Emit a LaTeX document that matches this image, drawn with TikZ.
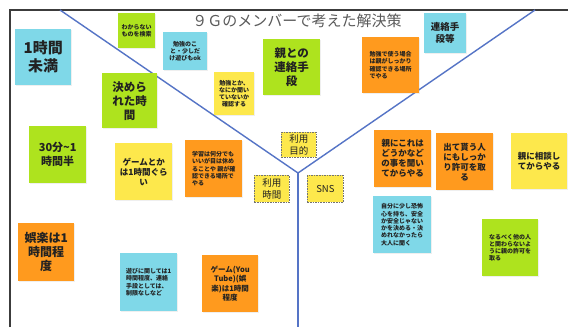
\documentclass[tikz,border=0pt]{standalone}
\usepackage{fontspec}
\setmainfont{Noto Sans CJK JP}
\usetikzlibrary{shadows}

\definecolor{stcyan}{HTML}{7FD8E8}
\definecolor{stgreen}{HTML}{AEE31E}
\definecolor{styellow}{HTML}{FDE84C}
\definecolor{storange}{HTML}{FF9A1E}
\definecolor{divline}{HTML}{5574C6}
\definecolor{boardframe}{HTML}{3C3C3C}
\definecolor{titlegray}{HTML}{5A5A5A}
\definecolor{notetext}{HTML}{222222}

\tikzset{
	sticky/.style={anchor=north west, inner sep=1pt, align=center, text=notetext,
		drop shadow={opacity=0.12, shadow xshift=0.6pt, shadow yshift=-0.6pt}},
	sz/.style 2 args={minimum width=#1pt, minimum height=#2pt},
	bigtext/.style={font=\bfseries\fontsize{11.5}{14}\selectfont},
	midtext/.style={font=\bfseries\fontsize{8.5}{10}\selectfont},
	smalltext/.style={font=\bfseries\fontsize{6}{7.3}\selectfont},
	tag/.style={anchor=north west, fill=styellow, draw=black!55, dash pattern=on 1.6pt off 1pt,
		line width=0.7pt, align=center, inner sep=0pt, text=notetext,
		font=\fontsize{9.5}{12}\selectfont},
	divide/.style={divline, line width=1.4pt},
}

\begin{document}
\begin{tikzpicture}[x=1pt, y=-1pt]
	\useasboundingbox[fill=white] (0,0) rectangle (568,327);

	% board frame
	\draw[boardframe, line width=1.8pt] (10,327) -- (10,10) -- (568,10);

	% dividing lines
	\coordinate (hub) at (298,173);
	\coordinate (lefttop) at (60,10);
	\coordinate (righttop) at (535,10);
	\coordinate (bottom) at (298,327);
	\draw[divide] (lefttop) -- (hub) -- (righttop);
	\draw[divide] (hub) -- (bottom);

	\node[titlegray, font=\fontsize{15}{18}\selectfont] (heading) at (297,21) {９Ｇのメンバーで考えた解決策};

	% left part: time
	\node[sticky, fill=stcyan, sz={56}{56}, font=\bfseries\fontsize{15}{18}\selectfont] (under1h) at (15,29) {1時間\\未満};
	\node[sticky, smalltext, fill=stgreen, sz={37}{35}] (search) at (118,13) {わからない\\ものを検索};
	\node[sticky, smalltext, fill=stcyan, sz={44}{38}] (studyok) at (163,32) {勉強のこ\\と・少しだ\\け遊びもok};
	\node[sticky, bigtext, fill=stgreen, sz={55}{55}] (fixedtime) at (102,73) {決めら\\れた時\\間};
	\node[sticky, smalltext, fill=styellow, sz={40}{43}] (askcheck) at (214,72) {勉強とか、\\なにか聞い\\ていないか\\確認する};
	\node[sticky, font=\bfseries\fontsize{11}{14}\selectfont, fill=stgreen, sz={57}{57}] (halfhour) at (29,126) {30分\textasciitilde1\\時間半};
	\node[sticky, midtext, fill=styellow, sz={57}{57}] (gamehour) at (115,143) {ゲームとか\\は1時間ぐら\\い};
	\node[sticky, smalltext, align=left, fill=storange, sz={57}{57}] (resteyes) at (185,140) {学習は何分でも\\いいが目は休め\\ることや 親が確\\認できる場所で\\やる};
	\node[sticky, font=\bfseries\fontsize{12}{14}\selectfont, fill=storange, sz={56}{58}] (fun1h) at (18,223) {娯楽は1\\時間程\\度};
	\node[sticky, smalltext, align=left, fill=stcyan, sz={57}{58}] (playlimit) at (120,253) {遊びに関しては1\\時間程度、連絡\\手段としては、\\制限なしなど};
	\node[sticky, font=\bfseries\fontsize{7.5}{9.5}\selectfont, fill=storange, sz={56}{57}] (youtube) at (202,255) {ゲーム(You\\Tube)(娯\\楽)は1時間\\程度};

	% top part: purpose
	\node[sticky, bigtext, fill=stgreen, sz={57}{56}] (contact) at (263,39) {親との\\連絡手\\段};
	\node[sticky, smalltext, align=left, fill=storange, sz={57}{56}] (parentsee) at (362,37) {勉強で使う場合\\は親がしっかり\\確認できる場所\\でやる};
	\node[sticky, font=\bfseries\fontsize{9.5}{12}\selectfont, fill=stcyan, sz={42}{40}] (contactetc) at (424,13) {連絡手\\段等};

	% right part: SNS
	\node[sticky, midtext, fill=storange, sz={57}{57}] (askparent) at (374,130) {親にこれは\\どうかなど\\の事を聞い\\てからやる};
	\node[sticky, midtext, fill=storange, sz={57}{57}] (permission) at (436,133) {出て貰う人\\にもしっか\\り許可を取\\る};
	\node[sticky, midtext, fill=styellow, sz={56}{56}] (consult) at (511,133) {親に相談し\\てからやる};
	\node[sticky, smalltext, align=left, fill=stcyan, sz={58}{57}] (fear) at (373,196) {自分に少し恐怖\\心を持ち、安全\\か安全じゃない\\かを決める・決\\めれなかったら\\大人に聞く};
	\node[sticky, smalltext, align=left, fill=stgreen, sz={56}{57}] (avoid) at (482,219) {なるべく他の人\\と関わらないよ\\うに親の許可を\\取る};

	% section tags
	\node[tag, sz={35}{25}] (purpose) at (281,132) {利用\\目的};
	\node[tag, sz={35}{27}] (usetime) at (254,175) {利用\\時間};
	\node[tag, sz={36}{27}] (sns) at (307,175) {SNS};
\end{tikzpicture}
\end{document}
